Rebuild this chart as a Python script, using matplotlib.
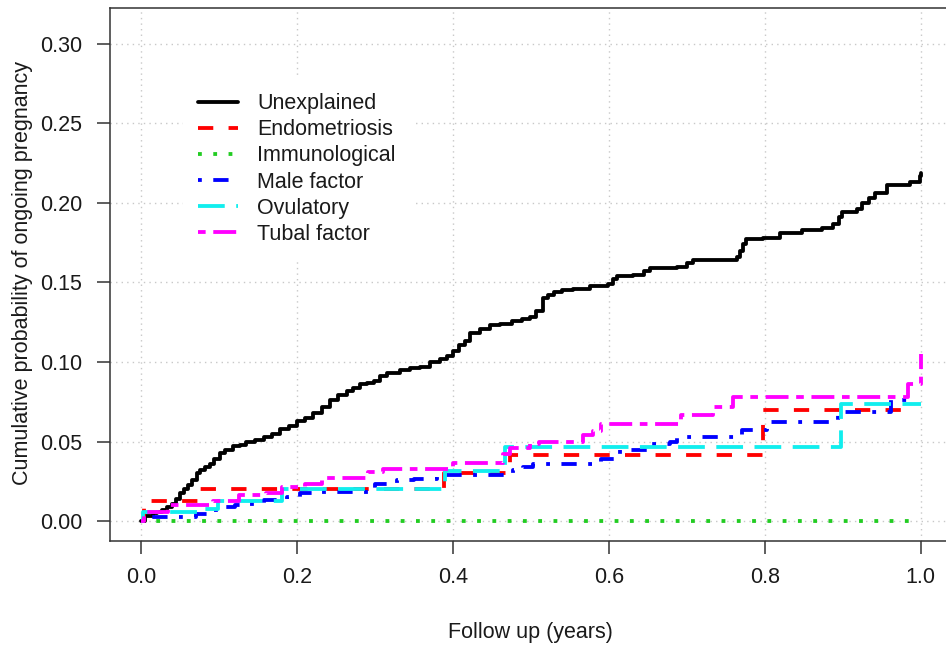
import matplotlib
matplotlib.use("Agg")
import matplotlib.pyplot as plt

plt.rcParams['font.family'] = ['Liberation Sans', 'DejaVu Sans']

# ---------------- data ----------------
labels = ["Unexplained", "Endometriosis", "Immunological", "Male factor", "Ovulatory", "Tubal factor"]

unexplained_t = [0, 0.005, 0.015, 0.02, 0.027, 0.033, 0.04, 0.045, 0.05, 0.055, 0.06, 0.065, 0.071,
                 0.076, 0.082, 0.088, 0.094, 0.101, 0.108, 0.118, 0.127, 0.135, 0.146, 0.157, 0.168,
                 0.178, 0.189, 0.2, 0.21, 0.221, 0.232, 0.242, 0.253, 0.264, 0.272, 0.281, 0.29,
                 0.298, 0.306, 0.315, 0.332, 0.345, 0.358, 0.37, 0.383, 0.392, 0.4, 0.408, 0.415,
                 0.422, 0.435, 0.448, 0.46, 0.475, 0.488, 0.499, 0.506, 0.516, 0.522, 0.529, 0.54,
                 0.554, 0.576, 0.599, 0.605, 0.61, 0.631, 0.645, 0.653, 0.687, 0.7, 0.708, 0.764,
                 0.768, 0.772, 0.776, 0.798, 0.819, 0.847, 0.873, 0.887, 0.895, 0.899, 0.918, 0.924,
                 0.933, 0.941, 0.956, 0.986, 0.999, 1.0]
unexplained_v = [0, 0.003, 0.005, 0.0056, 0.007, 0.009, 0.011, 0.014, 0.0175, 0.020, 0.023, 0.026, 0.030,
                 0.032, 0.034, 0.036, 0.039, 0.043, 0.045, 0.047, 0.048, 0.050, 0.051, 0.053, 0.055,
                 0.058, 0.060, 0.063, 0.065, 0.068, 0.072, 0.076, 0.079, 0.082, 0.084, 0.086, 0.087,
                 0.088, 0.091, 0.093, 0.095, 0.096, 0.097, 0.100, 0.102, 0.104, 0.107, 0.111, 0.1135,
                 0.118, 0.121, 0.123, 0.124, 0.126, 0.127, 0.128, 0.132, 0.140, 0.142, 0.144, 0.145,
                 0.146, 0.148, 0.149, 0.152, 0.154, 0.155, 0.157, 0.159, 0.160, 0.162, 0.164, 0.166,
                 0.170, 0.174, 0.177, 0.178, 0.181, 0.183, 0.1845, 0.187, 0.191, 0.194, 0.196, 0.200,
                 0.203, 0.206, 0.211, 0.213, 0.217, 0.219]

endometriosis_t = [0, 0.003, 0.076, 0.388, 0.473, 0.798, 0.985]
endometriosis_v = [0, 0.013, 0.0205, 0.030, 0.0414, 0.0696, 0.0696]

immunological_t = [0, 0.995]
immunological_v = [0, 0]

male_t = [0, 0.005, 0.07, 0.091, 0.099, 0.12, 0.135, 0.157, 0.187, 0.204, 0.22, 0.30, 0.328, 0.35,
          0.379, 0.477, 0.49, 0.503, 0.59, 0.614, 0.655, 0.678, 0.687, 0.770, 0.803, 0.894, 0.962, 0.99]
male_v = [0, 0.0027, 0.0048, 0.0069, 0.009, 0.0105, 0.011, 0.0136, 0.0153, 0.0176, 0.0184, 0.0236,
          0.0257, 0.0268, 0.029, 0.032, 0.034, 0.036, 0.0393, 0.0445, 0.0487, 0.0498, 0.053, 0.0575,
          0.0623, 0.0686, 0.0759, 0.0759]

ovulatory_t = [0, 0.002, 0.082, 0.099, 0.180, 0.39, 0.467, 0.898, 1.0]
ovulatory_v = [0, 0.006, 0.0075, 0.013, 0.0200, 0.0314, 0.0466, 0.0738, 0.0738]

tubal_t = [0, 0.003, 0.035, 0.092, 0.125, 0.16, 0.18, 0.21, 0.232, 0.291, 0.31, 0.40, 0.464, 0.473,
           0.499, 0.51, 0.567, 0.58, 0.59, 0.693, 0.733, 0.759, 0.984, 1.0]
tubal_v = [0, 0.006, 0.010, 0.0127, 0.0163, 0.018, 0.0215, 0.0236, 0.0272, 0.031, 0.033, 0.0366,
           0.0425, 0.0458, 0.0487, 0.0498, 0.054, 0.057, 0.0613, 0.0665, 0.0717, 0.078, 0.0864, 0.105]

x_ticks = [0.0, 0.2, 0.4, 0.6, 0.8, 1.0]
y_ticks = [0.00, 0.05, 0.10, 0.15, 0.20, 0.25, 0.30]

# ---------------- styles ----------------
colors = ["black", "#FF0000", "#22CC22", "#0000FF", "#11EEEE", "#FF00FF"]
dashes = [None, (4, 4), (1, 3), (1, 3, 4, 3), (7, 3), (2, 2, 6, 2)]
series = [(unexplained_t, unexplained_v), (endometriosis_t, endometriosis_v),
          (immunological_t, immunological_v), (male_t, male_v),
          (ovulatory_t, ovulatory_v), (tubal_t, tubal_v)]

W, H = 946, 647
fig = plt.figure(figsize=(W / 100, H / 100), dpi=100)
L, R, T, B = 110, 952, 8, 541
ax = fig.add_axes([L / W, (H - B) / H, (R - L) / W, (B - T) / H])
ax.set_xlim(-0.04, 1.04)
ax.set_ylim(-0.0124, 0.3224)

for x in x_ticks:
    ax.axvline(x, color="#C8C8C8", lw=1.0, ls=(0, (1, 3)), zorder=0)
for y in y_ticks:
    ax.axhline(y, color="#C8C8C8", lw=1.0, ls=(0, (1, 3)), zorder=0)

lw = 2.75
for i, ((t, v), lab, c, d) in enumerate(zip(series, labels, colors, dashes)):
    ln, = ax.step(t, v, where="post", color=c, lw=lw, label=lab, zorder=2 + i,
                  solid_capstyle="round", solid_joinstyle="round", dash_capstyle="butt")
    if d is not None:
        ln.set_dashes(d)

fs = 15.5
ax.set_xticks(x_ticks)
ax.set_xticklabels(["%.1f" % x for x in x_ticks])
ax.set_yticks(y_ticks)
ax.set_yticklabels(["%.2f" % y for y in y_ticks])
ax.tick_params(axis="both", direction="out", length=9.4, width=1.1, color="#333333",
               labelsize=fs, labelcolor="#1a1a1a")
ax.tick_params(axis="y", pad=10.5)
ax.tick_params(axis="x", pad=9)
for s in ["left", "bottom", "top", "right"]:
    ax.spines[s].set_color("#333333")
    ax.spines[s].set_linewidth(1.1)

ax.set_xlabel("Follow up (years)", fontsize=fs, color="#1a1a1a")
ax.set_ylabel("Cumulative probability of ongoing pregnancy", fontsize=fs, color="#1a1a1a")
aw, ah = R - L, B - T
ax.xaxis.set_label_coords((530 - L) / aw, -(622 - B) / ah)
ax.yaxis.set_label_coords(-(L - 33) / aw, (B - 273) / ah)

leg = ax.legend(loc="upper left", bbox_to_anchor=(183 / W, 1 - 78 / H),
                bbox_transform=fig.transFigure, fontsize=fs, frameon=True,
                fancybox=False, facecolor="white", edgecolor="white", framealpha=1,
                handlelength=1.85, handletextpad=0.9, labelspacing=0.24, borderpad=0.7,
                borderaxespad=0)
leg.set_zorder(1)
for txt in leg.get_texts():
    txt.set_color("#1a1a1a")

fig.savefig("out.png", dpi=100)
